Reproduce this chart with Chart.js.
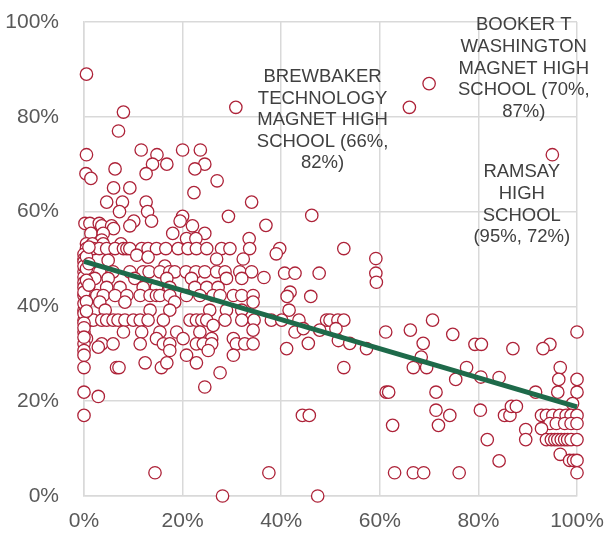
<!DOCTYPE html>
<html>
<head>
<meta charset="utf-8">
<script src="https://cdn.jsdelivr.net/npm/chart.js@4"></script>
<style>
  html, body { margin: 0; background: #fff; }
</style>
</head>
<body>
<canvas id="chart" width="607" height="537"></canvas>
<script>
// x %, y %, grouped by area
const upperPoints = [
  [0.5, 89], [8, 81], [30.8, 82], [7, 77], [0.5, 72], [11.6, 73], [14.8, 72], [20, 73], [23.6, 73],
  [13.9, 70], [16.8, 70], [24.5, 70], [22.5, 69], [6.3, 69], [12.6, 68], [0.4, 68], [1.4, 67],
  [27, 66.5], [6, 65], [9.3, 65], [22.3, 64], [4.6, 62], [7.8, 62], [12.6, 62], [34, 62],
  [7.2, 60], [12.9, 60], [13.7, 58], [20, 59], [19.5, 58], [29.3, 59], [10.1, 58], [9.3, 57],
  [0.2, 57.5], [1.2, 57.5], [3.1, 57.5], [3.6, 57], [5.6, 57], [6, 56.4], [22, 57],
  [1.4, 55.4], [3.9, 55.4], [18, 55.4], [24.5, 55.4], [20.8, 54.3], [22.7, 54.3], [33.5, 54.3],
  [3.6, 54], [0.5, 53.2], [1.7, 53.2], [3.9, 53.2], [7.5, 53.2],
  [46.2, 59.2], [36.9, 57.1]
];

const middlePoints = [
  [0.5, 52.2], [1.9, 52.2], [3.1, 52.2], [4.6, 52.2], [6.3, 52.2], [8, 52.2], [8.7, 52.2], [9.3, 52.2],
  [11.7, 52.2], [13, 52.2], [14.7, 52.2], [16.6, 52.2], [19.1, 52.2], [21.1, 52.2], [22.8, 52.2],
  [24.9, 52.2], [27.9, 52.2], [29.6, 52.2], [33.6, 52.2], [39.7, 52.2], [39, 51.1], [52.7, 52.2],
  [4.9, 49.7], [10.7, 50.8], [13, 50.4], [16.4, 48.5], [26.9, 50], [32.3, 50], [59.2, 50.1],
  [0, 47.3], [1.2, 47.3], [3.2, 47.3], [5.9, 47.3], [9.3, 47.3], [12, 47.3], [13.2, 47.3],
  [15.4, 47.3], [17.4, 47.3], [18.4, 47.3], [20.7, 47.3], [22.7, 47.3], [24.5, 47.3], [26.9, 47.3],
  [28.6, 47.3], [31.6, 47.3], [34, 47.3], [40.7, 47], [42.8, 47], [47.7, 47], [59.2, 47],
  [2.2, 45.9], [4.9, 45.9], [10.3, 45.9], [16.8, 45.9], [21.8, 45.9], [28.9, 45.9], [32, 45.9],
  [36.5, 46.1], [59.3, 45.1],
  [0.9, 44], [4.6, 44], [7.3, 44], [12, 44], [14.7, 44], [17.4, 44], [22.5, 44], [24.9, 44], [27.2, 44],
  [41.8, 43],
  [0, 42.3], [0.9, 42.3], [2.6, 42.3], [3.9, 42.3], [6.3, 42.3], [8.7, 42.3], [11.4, 42.3],
  [13.4, 42.3], [14.7, 42.3], [15.4, 42.3], [17.4, 42.3], [20.8, 42.3], [23.5, 42.3], [26.2, 42.3],
  [27.6, 42.3], [30.3, 42.3], [32, 42.3], [34.3, 42.3], [41.2, 42.1], [46, 42.1],
  [3.2, 40.9], [8.3, 40.9], [18.4, 40.9], [34.3, 40.9],
  [0, 39.2], [4.3, 39.2], [13.4, 39.2], [17.4, 39.2], [25.5, 39.2], [28.9, 39.2], [32, 39.2], [41.6, 39.2],
  [0, 37.1], [1.2, 37.1], [1.9, 37.1], [3.6, 37.1], [4.6, 37.1], [5.9, 37.1], [6.9, 37.1], [8.3, 37.1],
  [10, 37.1], [11.4, 37.1], [13, 37.1], [16.1, 37.1], [21.5, 37.1], [22.8, 37.1], [23.9, 37.1],
  [24.9, 37.1], [28.6, 37.1], [32, 37.1], [34.5, 37.1], [38, 37.1], [40.1, 37.1], [43.6, 37.1],
  [49.2, 37.1], [49.9, 37.1], [51.5, 37.1], [52.7, 37.1], [70.7, 37.1],
  [26.2, 36], [34.3, 35], [42.8, 34.6], [44.5, 35.3], [47.8, 35], [51.1, 35.3], [61.2, 34.6],
  [66.2, 35], [74.8, 34.1],
  [0, 34.6], [8, 34.6], [11.7, 34.6], [15.4, 34.6], [18.8, 34.6], [23.5, 34.6],
  [0.5, 33.2], [14.7, 33.2], [20.1, 33.2], [25.9, 33.2], [30.3, 33.2], [51.6, 32.8],
  [0, 32.1], [3.6, 32.1], [5.9, 32.1], [11.4, 32.1], [16.1, 32.1], [17.4, 32.1], [22.8, 32.1],
  [24.2, 32.1], [25.9, 32.1], [30.9, 32.1], [32.6, 32.1], [34.3, 32.1], [45.5, 32.2], [53.9, 32.2],
  [68.8, 32.2], [79.3, 32], [80.6, 32], [94.5, 32], [2.9, 31.4],
  [0, 30.7], [17.4, 30.7], [25.2, 30.7], [41.1, 31.1], [57.3, 31.1], [87, 31.1], [93.1, 31.1],
  [0, 29.7], [20.8, 29.7], [30.3, 29.7], [68.4, 29.3], [100, 34.6]
];

const leftColumn = [
  [0, 51], [0, 50], [0, 49.4], [0, 48.5], [0, 46.2], [0, 45], [0, 44], [0, 43], [0, 40.6],
  [0, 38.5], [0, 36.5], [0, 35.5], [0, 33.5], [0.5, 50.5], [0.5, 48], [0.5, 45.5], [0.5, 41],
  [0.5, 39], [1, 52.5], [1, 49], [1, 44.5]
];

const lowerPoints = [
  [0, 27.1], [6.6, 27.1], [7.1, 27.1], [12.4, 28.1], [15.7, 27.1], [16.8, 28.1], [22.8, 28.1],
  [27.6, 26], [24.5, 23], [0, 21.9], [2.9, 21], [0, 17], [14.4, 4.9], [28.1, 0],
  [66.8, 27.1], [69.5, 27.1], [52.7, 27.1], [61.3, 21.9], [61.8, 21.9], [71.4, 21.9], [71.4, 18.1],
  [71.9, 14.9], [74.2, 17], [62.6, 14.9], [44.3, 17], [45.7, 17], [37.5, 4.9], [63, 4.9],
  [66.8, 4.9], [68.9, 4.9], [47.4, 0],
  [75.4, 24.6], [77.6, 27.1], [80.5, 25.1], [84.2, 25], [80.4, 18.1], [85.3, 17], [86.4, 17],
  [86.7, 18.9], [87.7, 18.9], [81.8, 11.9], [84.2, 7.4], [76.1, 4.9], [89.6, 14], [89.6, 11.9],
  [91.6, 21.9]
];

const rightCluster = [
  [96.6, 27.1], [96.3, 24.6], [100, 24.6], [96.1, 21.9], [100, 21.9], [99.1, 19.5],
  [92.8, 17], [93.8, 17], [95.1, 17], [96.5, 17], [97.8, 17], [98.8, 17], [100, 17],
  [94.5, 15.3], [95.8, 15.3], [97.5, 15.3], [98.8, 15.3], [100, 15.3], [92.8, 14.2],
  [93.8, 11.9], [94.8, 11.9], [95.5, 11.9], [96.1, 11.9], [96.8, 11.9], [97.5, 11.9],
  [98.1, 11.9], [98.8, 11.9], [100, 11.9], [96.6, 8.8], [98.5, 7.5], [99.3, 7.5], [100, 7.5],
  [100, 4.9]
];

const namedPoints = [[66, 82], [70, 87], [95, 72]];

const trendX = [0, 100];
const trendY = [49.5, 18.8];

const noteLines = [
  ["BREWBAKER", "TECHNOLOGY", "MAGNET HIGH", "SCHOOL (66%,", "82%)"],
  ["BOOKER T", "WASHINGTON", "MAGNET HIGH", "SCHOOL (70%,", "87%)"],
  ["RAMSAY", "HIGH", "SCHOOL", "(95%, 72%)"]
];
const noteX = [48.4, 89.2, 88.8];
const noteY = [88.4, 99.3, 68.3];

const axisTicks = [0, 20, 40, 60, 80, 100];

const allPoints = [].concat(upperPoints, middlePoints, leftColumn, lowerPoints, rightCluster, namedPoints)
  .map(p => ({ x: p[0], y: p[1] }));

const notePlugin = {
  id: "schoolNotes",
  afterDatasetsDraw(chart) {
    const { ctx, scales } = chart;
    ctx.save();
    ctx.font = "18.5px 'Liberation Sans', Arial, sans-serif";
    ctx.fillStyle = "#404040";
    ctx.textAlign = "center";
    ctx.textBaseline = "middle";
    noteLines.forEach((lines, i) => {
      const px = scales.x.getPixelForValue(noteX[i]);
      const py = scales.y.getPixelForValue(noteY[i]);
      lines.forEach((line, j) => ctx.fillText(line, px, py + j * 21.6));
    });
    ctx.restore();
  }
};

const tickFont = { family: "'Liberation Sans', Arial, sans-serif", size: 21 };

new Chart(document.getElementById("chart"), {
  type: "scatter",
  data: {
    datasets: [
      {
        label: "Trend",
        type: "line",
        data: trendX.map((x, i) => ({ x: x, y: trendY[i] })),
        borderColor: "#1e6a4a",
        borderWidth: 5,
        pointRadius: 0,
        order: 0,
        clip: false
      },
      {
        label: "Schools",
        data: allPoints,
        pointRadius: 6.2,
        pointBorderWidth: 1.3,
        pointBackgroundColor: "#ffffff",
        pointBorderColor: "#ad2238",
        order: 1,
        clip: false
      }
    ]
  },
  options: {
    responsive: false,
    animation: false,
    layout: { padding: { top: 22, right: 30, left: 0, bottom: 0 } },
    plugins: { legend: { display: false }, tooltip: { enabled: false } },
    scales: {
      x: {
        type: "linear",
        min: 0,
        max: 100,
        afterBuildTicks: scale => { scale.ticks = axisTicks.map(v => ({ value: v })); },
        afterFit: scale => {
          scale.height = 41;
          scale.paddingLeft = 0;
          scale.paddingRight = 0;
        },
        ticks: { callback: v => v + "%", font: tickFont, color: "#595959", padding: 13, maxRotation: 0 },
        grid: { color: "#d9d9d9", lineWidth: 1.5, drawTicks: false },
        border: { color: "#d9d9d9", width: 1.5 }
      },
      y: {
        min: 0,
        max: 100,
        afterBuildTicks: scale => { scale.ticks = axisTicks.map(v => ({ value: v })); },
        afterFit: scale => {
          scale.width = 84;
          scale.paddingTop = 0;
          scale.paddingBottom = 0;
        },
        ticks: { callback: v => v + "%", font: tickFont, color: "#595959", padding: 25 },
        grid: { color: "#d9d9d9", lineWidth: 1.5, drawTicks: false },
        border: { color: "#d9d9d9", width: 1.5 }
      }
    }
  },
  plugins: [notePlugin]
});
</script>
</body>
</html>
